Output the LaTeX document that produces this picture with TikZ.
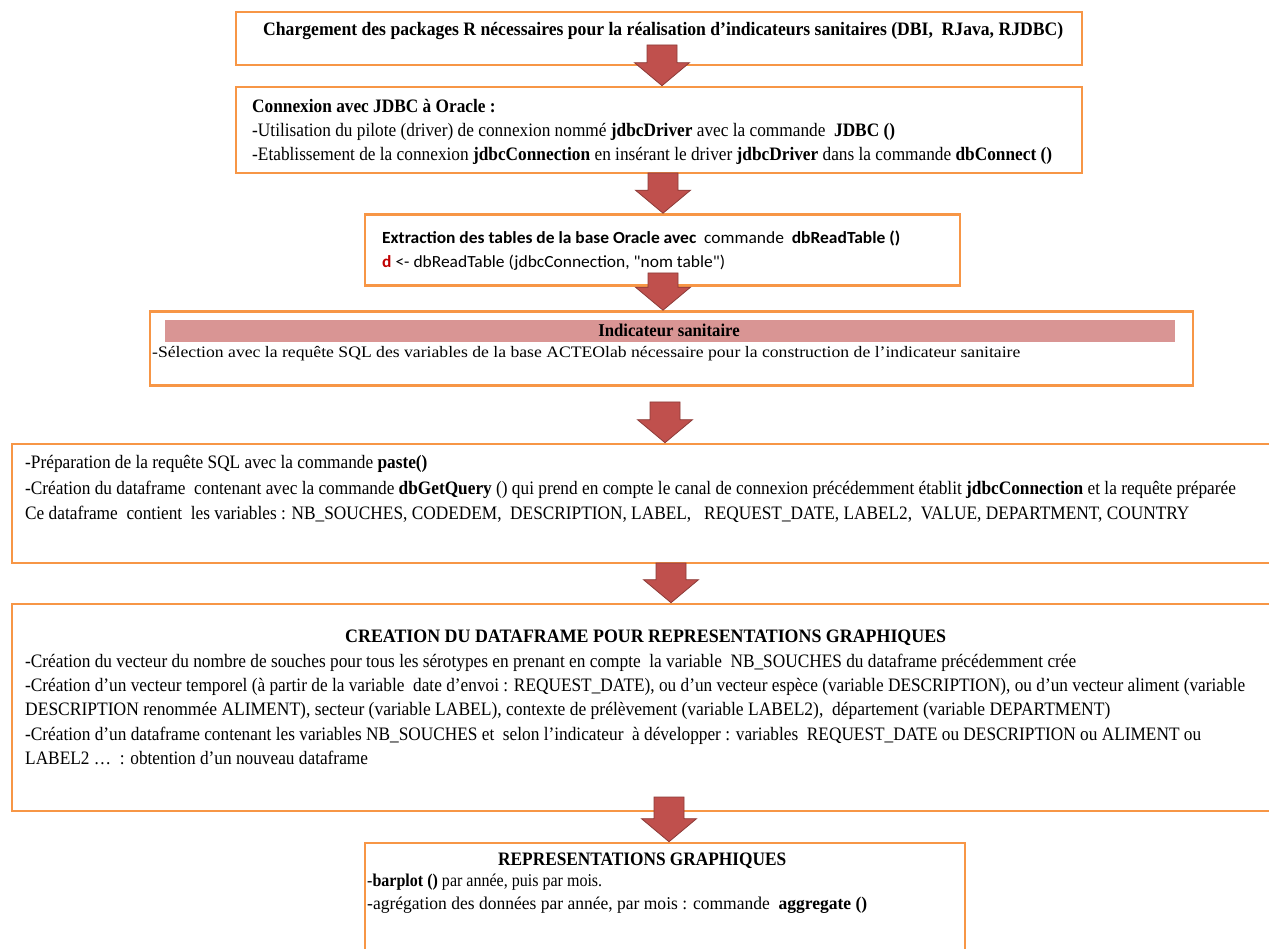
\documentclass[tikz,border=0pt]{standalone}
\usepackage{fontspec}
\usepackage{graphicx}
\setmainfont{Liberation Serif}
\newfontfamily\calib{Carlito}[Ligatures=TeXOff]
\usetikzlibrary{calc}

\definecolor{boxorange}{HTML}{F79646}
\definecolor{arrowred}{HTML}{C0504D}
\definecolor{arrowedge}{HTML}{8C3A37}
\definecolor{barpink}{HTML}{D99594}
\definecolor{codered}{HTML}{C00000}

\tikzset{
  box/.style={draw=boxorange, line width=2.6pt, fill=white, rectangle, inner sep=0pt},
  blockarrow/.style={fill=arrowred, draw=arrowedge, line width=0.8pt, line join=miter},
  txt/.style={anchor=base west, inner sep=0pt, font=\fontsize{19}{22}\selectfont},
  ctxt/.style={anchor=base, inner sep=0pt, font=\fontsize{19}{22}\selectfont},
}

% text line squeezed horizontally by \sq
\def\sq{0.91}
\newcommand\tline[5][]{\node[txt,#1] (#2) at (#3,#4) {\scalebox{\sq}[1]{#5}};}
% text line set to a given width (pt)
\newcommand\wline[6][]{\node[txt,#1] (#2) at (#3,#4) {\resizebox{#5pt}{\height}{#6}};}

% block arrow: shaft from #1 down to a tip at #2
\newcommand\blockarrow[2]{%
  \draw[blockarrow] let \p1=(#1), \p2=(#2) in
    (\x1-15pt,\y1) -- (\x1+15pt,\y1) -- (\x1+15pt,\y2+23pt) -- (\x1+27.5pt,\y2+23pt)
    -- (\x2,\y2) -- (\x1-27.5pt,\y2+23pt) -- (\x1-15pt,\y2+23pt) -- cycle;}

\begin{document}
\begin{tikzpicture}[x=1pt,y=-1pt]
\useasboundingbox (0,0) rectangle (1269,949);
\clip (0,0) rectangle (1269,949);
\fill[white] (0,0) rectangle (1269,949);

% ---- boxes ----
\node[box, minimum width=846pt, minimum height=53pt]   (load)     at (659,38.5) {};
\node[box, minimum width=846pt, minimum height=86pt]   (conn)     at (659,130) {};
\node[box, minimum width=595pt, minimum height=71pt]   (extract)  at (662.5,250) {};
\node[box, minimum width=1043pt, minimum height=74pt]  (indic)    at (671.5,348.5) {};
\node[box, minimum width=1278pt, minimum height=119pt] (query)    at (651,503.5) {};
\node[box, minimum width=1278pt, minimum height=207pt] (dfcreate) at (651,707.5) {};
\node[box, minimum width=600pt, minimum height=132pt]  (graph)    at (665,909) {};

% pink title bar of the indicator box
\node[fill=barpink, minimum width=1010pt, minimum height=22pt, inner sep=0pt] (bar) at (670,331) {};

% ---- arrows ----
\coordinate (a1s) at (662,45);
\coordinate (a2s) at (663,173);
\coordinate (a3s) at (663,273);
\coordinate (a4s) at (665,402);
\coordinate (a5s) at (671,563);
\coordinate (a6s) at (669,797);
\blockarrow{a1s}{a1s |- conn.north}
\blockarrow{a2s}{a2s |- extract.north}
\blockarrow{a3s}{a3s |- indic.north}
\blockarrow{a4s}{a4s |- query.north}
\blockarrow{a5s}{a5s |- dfcreate.north}
\blockarrow{a6s}{a6s |- graph.north}

% ---- texts ----
\wline{t1}{263}{36}{800}{\textbf{Chargement des packages R nécessaires pour la réalisation d’indicateurs sanitaires (DBI,\ \ RJava, RJDBC)}}

\tline{t2a}{252}{113}{\textbf{Connexion avec JDBC à Oracle :}}
\tline{t2b}{252}{137}{-Utilisation du pilote (driver) de connexion nommé \textbf{jdbcDriver} avec la commande\ \ \textbf{JDBC ()}}
\tline{t2c}{252}{161}{-Etablissement de la connexion \textbf{jdbcConnection} en insérant le driver \textbf{jdbcDriver} dans la commande \textbf{dbConnect ()}}

\wline[font=\calib\fontsize{17}{20}\selectfont]{t3a}{382}{244}{518}{\textbf{Extraction des tables de la base Oracle avec}\ \ commande\ \ \textbf{dbReadTable ()}}
\wline[font=\calib\fontsize{17}{20}\selectfont]{t3b}{382}{268}{343}{\textcolor{codered}{\textbf{d}} <- dbReadTable (jdbcConnection, "nom table")}

\node[ctxt, font=\bfseries\fontsize{18}{20}\selectfont] (t4a) at (669,337) {\scalebox{0.93}[1]{Indicateur sanitaire}};
\wline[font=\fontsize{16}{19}\selectfont]{t4b}{152}{358}{868}{-Sélection avec la requête SQL des variables de la base ACTEOlab nécessaire pour la construction de l’indicateur sanitaire}

\tline{t5a}{25}{468}{-Préparation de la requête SQL avec la commande \textbf{paste()}}
\tline{t5b}{25}{494}{-Création du dataframe\ \ contenant avec la commande \textbf{dbGetQuery} () qui prend en compte le canal de connexion précédemment établit \textbf{jdbcConnection} et la requête préparée}
\tline{t5c}{25}{519}{Ce dataframe\ \ contient\ \ les variables : NB\_SOUCHES, CODEDEM,\ \ DESCRIPTION, LABEL,\ \ \ REQUEST\_DATE, LABEL2,\ \ VALUE, DEPARTMENT, COUNTRY}

\wline{t6a}{345}{642}{601}{\textbf{CREATION DU DATAFRAME POUR REPRESENTATIONS GRAPHIQUES}}
\tline{t6b}{25}{667}{-Création du vecteur du nombre de souches pour tous les sérotypes en prenant en compte\ \ la variable\ \ NB\_SOUCHES du dataframe précédemment crée}
\tline{t6c}{25}{691}{-Création d’un vecteur temporel (à partir de la variable\ \ date d’envoi : REQUEST\_DATE), ou d’un vecteur espèce (variable DESCRIPTION), ou d’un vecteur aliment (variable}
\wline{t6d}{25}{715}{1085}{DESCRIPTION renommée ALIMENT), secteur (variable LABEL), contexte de prélèvement (variable LABEL2),\ \ département (variable DEPARTMENT)}
\tline{t6e}{25}{740}{-Création d’un dataframe contenant les variables NB\_SOUCHES et\ \ selon l’indicateur\ \ à développer : variables\ \ REQUEST\_DATE ou DESCRIPTION ou ALIMENT ou}
\tline{t6f}{25}{764}{LABEL2 …\ \ : obtention d’un nouveau dataframe}

\tline{t7a}{498}{865}{\textbf{REPRESENTATIONS GRAPHIQUES}}
\wline[font=\fontsize{18}{21}\selectfont]{t7b}{367}{886}{235}{-\textbf{barplot ()} par année, puis par mois.}
\wline[font=\fontsize{18}{21}\selectfont]{t7c}{367}{909}{500}{-agrégation des données par année, par mois : commande\ \ \textbf{aggregate ()}}
\end{tikzpicture}
\end{document}
